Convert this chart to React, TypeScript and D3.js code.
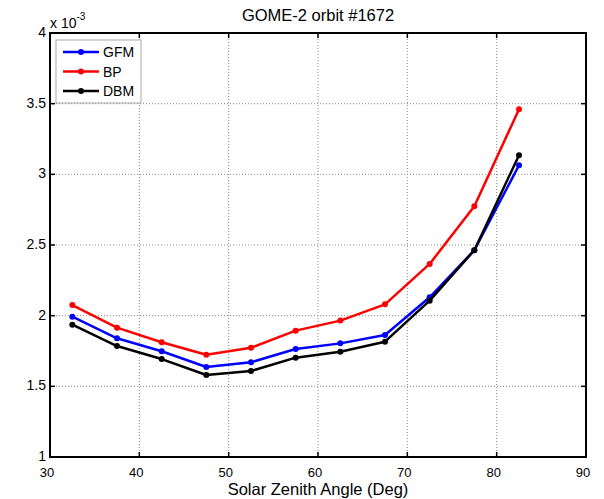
import React from "react";
import * as d3 from "d3";

const sza = [32.5, 37.5, 42.5, 47.5, 52.5, 57.5, 62.5, 67.5, 72.5, 77.5, 82.5];
const gfm = [1.993, 1.84, 1.748, 1.637, 1.67, 1.764, 1.804, 1.863, 2.13, 2.463, 3.064];
const bp = [2.075, 1.915, 1.812, 1.724, 1.773, 1.894, 1.965, 2.08, 2.366, 2.774, 3.46];
const dbm = [1.936, 1.785, 1.693, 1.58, 1.608, 1.703, 1.745, 1.816, 2.106, 2.463, 3.135];
const xTicks = [30, 40, 50, 60, 70, 80, 90];
const yTicks = [1, 1.5, 2, 2.5, 3, 3.5, 4];
const seriesNames = ["GFM", "BP", "DBM"];
const seriesColors = ["#0000ff", "#ff0000", "#000000"];

export default function App() {
  const W = 604, H = 499;
  const L = 50, R = 586, T = 33, B = 457;
  const x = d3.scaleLinear().domain([30, 90]).range([L, R]);
  const y = d3.scaleLinear().domain([1, 4]).range([B, T]);
  const line = d3.line<number>().x((_, i) => x(sza[i])).y((d) => y(d));
  const data = [gfm, bp, dbm];
  const font = "Arial, 'Liberation Sans', Helvetica, sans-serif";
  return (
    <svg width={W} height={H} style={{ position: "absolute", left: 0, top: 0, background: "#fff" }} fontFamily={font}>
      <rect x={0} y={0} width={W} height={H} fill="#fff" />
      {/* grid */}
      {xTicks.slice(1, -1).map((t) => (
        <line key={"gx" + t} x1={x(t)} x2={x(t)} y1={T} y2={B} stroke="#888" strokeWidth={1} strokeDasharray="1,2" />
      ))}
      {yTicks.slice(1, -1).map((t) => (
        <line key={"gy" + t} x1={L} x2={R} y1={y(t)} y2={y(t)} stroke="#888" strokeWidth={1} strokeDasharray="1,2" />
      ))}
      {/* ticks */}
      {xTicks.map((t) => (
        <g key={"tx" + t}>
          <line x1={x(t)} x2={x(t)} y1={B} y2={B - 5} stroke="#000" strokeWidth={1.5} />
          <line x1={x(t)} x2={x(t)} y1={T} y2={T + 5} stroke="#000" strokeWidth={1.5} />
          <text x={x(t) - 3} y={B + 20} fontSize={13} textAnchor="middle">{t}</text>
        </g>
      ))}
      {yTicks.map((t) => (
        <g key={"ty" + t}>
          <line x1={L} x2={L + 5} y1={y(t)} y2={y(t)} stroke="#000" strokeWidth={1.5} />
          <line x1={R} x2={R - 5} y1={y(t)} y2={y(t)} stroke="#000" strokeWidth={1.5} />
          <text x={L - 4} y={y(t) + 4} fontSize={14} textAnchor="end">{t}</text>
        </g>
      ))}
      {/* data */}
      {data.map((d, k) => (
        <g key={"s" + k}>
          <path d={line(d) || ""} fill="none" stroke={seriesColors[k]} strokeWidth={2.5} strokeLinejoin="round" />
          {d.map((v, i) => (
            <circle key={i} cx={x(sza[i])} cy={y(v)} r={3} fill={seriesColors[k]} />
          ))}
        </g>
      ))}
      {/* frame */}
      <rect x={L} y={T} width={R - L} height={B - T} fill="none" stroke="#000" strokeWidth={2} />
      {/* legend */}
      <rect x={56} y={40} width={85} height={63} fill="#fff" stroke="#aaa" strokeWidth={1} />
      {seriesNames.map((n, k) => {
        const ly = 52 + k * 19.5;
        return (
          <g key={"l" + n}>
            <line x1={63} x2={99} y1={ly} y2={ly} stroke={seriesColors[k]} strokeWidth={2.5} />
            <circle cx={81} cy={ly} r={3} fill={seriesColors[k]} />
            <text x={103} y={ly + 5} fontSize={14}>{n}</text>
          </g>
        );
      })}
      {/* exponent */}
      <text x={50} y={28} fontSize={14}>x 10<tspan dy={-8} fontSize={10}>-3</tspan></text>
      {/* title */}
      <text x={(L + R) / 2} y={20.5} fontSize={16.5} textAnchor="middle">GOME-2 orbit #1672</text>
      {/* x label */}
      <text x={(L + R) / 2} y={495} fontSize={16.5} textAnchor="middle">Solar Zenith Angle (Deg)</text>
    </svg>
  );
}
